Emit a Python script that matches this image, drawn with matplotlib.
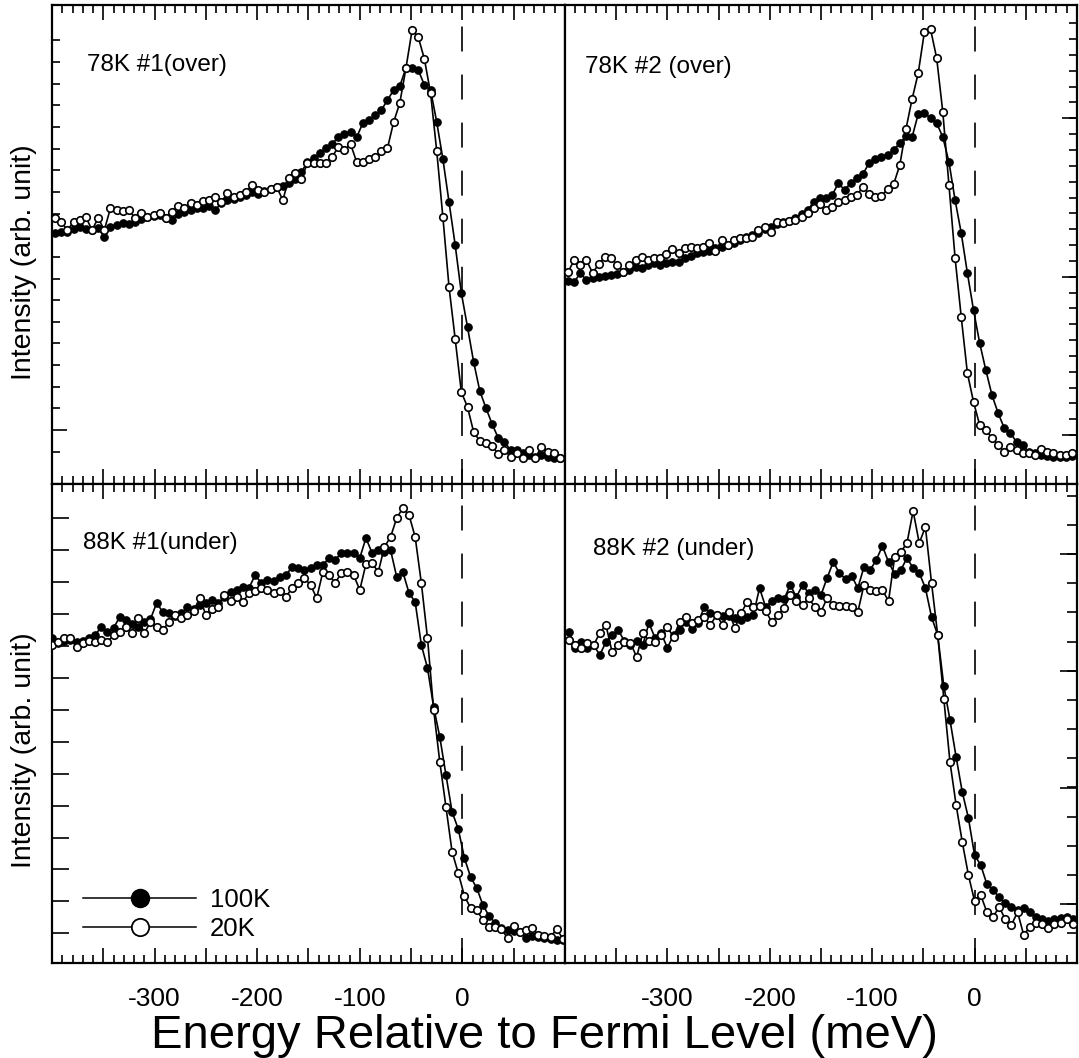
import numpy as np
import matplotlib
matplotlib.use("Agg")
import matplotlib.pyplot as plt
from matplotlib.lines import Line2D
from matplotlib.ticker import MultipleLocator, FixedLocator, FuncFormatter

plt.rcParams['font.family'] = 'Liberation Sans'
plt.rcParams['lines.scale_dashes'] = False

# energy grids of the four scans (meV, relative to E_F)
e_78k_1 = np.arange(-397, 96, 6)
e_78k_2 = np.arange(-397, 96, 6)
e_88k_1 = np.arange(-400, 99, 6)
e_88k_2 = np.arange(-396, 97, 6)

# intensities (arb. unit), 100K = filled, 20K = open
i_78k_1_100 = [251, 252, 252, 255, 257, 255, 254, 256, 247, 257,
               259, 261, 260, 262, 265, 267, 268, 269, 266, 264,
               270, 272, 274, 276, 276, 278, 274, 281, 284, 285,
               287, 289, 292, 290, 293, 295, 297, 298, 301, 305,
               312, 322, 326, 331, 336, 340, 347, 350, 352, 347,
               361, 364, 369, 374, 384, 394, 398, 416, 416, 414,
               399, 394, 362, 325, 282, 239, 191, 157, 122, 93,
               76, 60, 46, 42, 34, 34, 31, 29, 27, 29,
               27, 26, 26]
i_78k_1_20 = [266, 262, 254, 262, 264, 267, 254, 266, 254, 276,
              274, 273, 274, 266, 271, 267, 269, 271, 266, 272,
              278, 276, 281, 279, 283, 284, 287, 282, 291, 287,
              289, 292, 299, 294, 292, 295, 297, 284, 306, 311,
              305, 321, 321, 321, 321, 327, 337, 334, 340, 322,
              322, 325, 327, 333, 336, 362, 381, 416, 454, 447,
              425, 391, 333, 267, 197, 145, 92, 77, 52, 43,
              41, 38, 30, 34, 27, 31, 26, 34, 26, 37,
              32, 31, 26]

i_78k_2_100 = [203, 202, 211, 204, 206, 207, 208, 209, 210, 212,
               214, 217, 216, 219, 221, 219, 221, 222, 222, 226,
               228, 231, 232, 233, 236, 237, 239, 241, 244, 247,
               249, 251, 255, 257, 260, 262, 263, 266, 270, 274,
               282, 286, 286, 289, 301, 294, 301, 306, 310, 321,
               325, 327, 329, 334, 341, 348, 347, 370, 371, 366,
               361, 347, 322, 284, 251, 211, 174, 141, 114, 89,
               71, 56, 51, 42, 39, 32, 31, 29, 28, 27,
               27, 27, 28]
i_78k_2_20 = [212, 224, 219, 224, 211, 220, 227, 226, 219, 212,
              219, 224, 227, 224, 226, 226, 230, 235, 231, 236,
              237, 236, 237, 241, 233, 244, 239, 244, 246, 246,
              247, 254, 257, 252, 262, 261, 263, 264, 267, 271,
              276, 280, 274, 277, 282, 284, 287, 289, 297, 290,
              287, 288, 295, 300, 319, 355, 385, 411, 452, 455,
              426, 372, 299, 226, 167, 111, 82, 59, 54, 46,
              39, 32, 37, 34, 31, 31, 29, 35, 32, 31,
              29, 29, 31]

i_88k_1_100 = [325, 320, 322, 323, 321, 322, 325, 328, 336, 331,
               335, 346, 343, 339, 336, 341, 344, 360, 351, 350,
               347, 350, 356, 354, 358, 360, 363, 360, 366, 371,
               373, 376, 375, 388, 380, 383, 382, 386, 388, 396,
               395, 393, 395, 398, 398, 405, 403, 410, 410, 410,
               405, 425, 410, 413, 411, 413, 386, 391, 370, 361,
               318, 295, 256, 226, 188, 151, 134, 105, 86, 75,
               58, 47, 40, 35, 33, 32, 31, 25, 27, 26,
               25, 24, 23, 23]
i_88k_1_20 = [318, 321, 325, 325, 316, 320, 322, 321, 323, 321,
              328, 331, 336, 330, 345, 330, 341, 336, 333, 341,
              348, 345, 348, 352, 365, 348, 354, 356, 368, 362,
              366, 361, 370, 372, 375, 373, 370, 372, 366, 375,
              380, 385, 378, 365, 391, 388, 380, 390, 391, 388,
              373, 399, 400, 391, 416, 426, 445, 455, 448, 426,
              380, 325, 253, 201, 156, 111, 90, 67, 55, 53,
              43, 36, 36, 34, 25, 37, 31, 33, 35, 28,
              27, 26, 34, 24]

i_88k_2_100 = [331, 315, 321, 315, 318, 308, 321, 328, 333, 322,
               318, 322, 318, 340, 325, 330, 315, 328, 333, 341,
               334, 340, 356, 350, 348, 347, 347, 345, 343, 346,
               348, 375, 356, 362, 365, 364, 378, 366, 378, 370,
               373, 368, 385, 401, 390, 384, 387, 375, 396, 393,
               403, 417, 401, 389, 393, 405, 395, 390, 375, 346,
               328, 277, 243, 206, 171, 145, 108, 98, 79, 73,
               66, 60, 56, 53, 55, 51, 46, 44, 42, 44,
               45, 46, 44]
i_88k_2_20 = [323, 318, 315, 320, 318, 330, 338, 311, 318, 321,
              320, 306, 330, 322, 321, 328, 336, 326, 341, 346,
              340, 343, 346, 338, 348, 338, 351, 335, 350, 361,
              356, 357, 352, 341, 348, 355, 368, 362, 358, 365,
              356, 351, 365, 358, 357, 357, 356, 351, 378, 373,
              372, 373, 362, 406, 411, 420, 452, 420, 436, 380,
              328, 264, 201, 158, 121, 88, 62, 68, 51, 46,
              56, 44, 38, 51, 28, 36, 40, 39, 35, 39,
              40, 44, 39]

panel_labels = ["78K #1(over)", "78K #2 (over)", "88K #1(under)", "88K #2 (under)"]
tick_values = [-300, -200, -100, 0]

fig = plt.figure(figsize=(10.79, 10.58), dpi=100)
xl, xr, wl, wr = 0.0482, 0.5236, 0.4754, 0.4745
yb, yt, h = 0.0898, 0.5425, 0.4527
ax_tl = fig.add_axes([xl, yt, wl, h])
ax_tr = fig.add_axes([xr, yt, wr, h])
ax_bl = fig.add_axes([xl, yb, wl, h])
ax_br = fig.add_axes([xr, yb, wr, h])


def xlab(v, pos):
    v = int(round(v))
    return str(v) if v in tick_values else ""


def setup(ax, side, ymaj, ymin, lmaj, lmin, bottom_row):
    ax.set_xlim(-400, 100)
    ax.set_ylim(0, 479)
    for s in ax.spines.values():
        s.set_linewidth(1.6)
    ax.xaxis.set_major_locator(MultipleLocator(50))
    ax.xaxis.set_minor_locator(MultipleLocator(10))
    ax.yaxis.set_major_locator(FixedLocator(ymaj))
    ax.yaxis.set_minor_locator(FixedLocator(ymin))
    ax.tick_params(axis='both', which='both', direction='in', width=1.2)
    ax.tick_params(axis='x', which='both', top=True, bottom=True)
    ax.tick_params(axis='x', which='major', length=11)
    ax.tick_params(axis='x', which='minor', length=5.5)
    left = side == 'left'
    ax.tick_params(axis='y', which='both', left=left, right=not left,
                   labelleft=False, labelright=False)
    ax.tick_params(axis='y', which='major', length=lmaj)
    ax.tick_params(axis='y', which='minor', length=lmin)
    if bottom_row:
        ax.xaxis.set_major_formatter(FuncFormatter(xlab))
        ax.tick_params(axis='x', labelsize=19, pad=17)
    else:
        ax.tick_params(axis='x', labelbottom=False)


setup(ax_tl, 'left', [54], np.arange(32.35, 460, 21.65), 11, 6, False)
setup(ax_tr, 'right', [49, 207.35, 365.7], np.arange(33.2, 470, 15.835), 11, 6, False)
setup(ax_bl, 'left', np.arange(29.7, 460, 31.92), [], 12, 6, True)
setup(ax_br, 'right', np.arange(58.7, 470, 116.7), np.arange(29.7, 475, 29.17), 12, 7, True)

series = [(ax_tl, e_78k_1, i_78k_1_100, i_78k_1_20),
          (ax_tr, e_78k_2, i_78k_2_100, i_78k_2_20),
          (ax_bl, e_88k_1, i_88k_1_100, i_88k_1_20),
          (ax_br, e_88k_2, i_88k_2_100, i_88k_2_20)]
label_pos = [(0.068, 0.862), (0.039, 0.859), (0.060, 0.864), (0.055, 0.852)]

for (ax, e, hot, cold), name, (tx, ty) in zip(series, panel_labels, label_pos):
    ax.axvline(0, color='k', lw=1.2, ls=(0, (18, 16.6)), zorder=1)
    ax.plot(e, hot, '-o', color='k', lw=1.2, ms=5.4, mfc='k', mec='k', mew=0.8, zorder=3)
    ax.plot(e, cold, '-o', color='k', lw=1.2, ms=5.4, mfc='white', mec='k', mew=1.2, zorder=4)
    ax.text(tx, ty, name, transform=ax.transAxes, fontsize=17.5, ha='left', va='baseline')

handles = [Line2D([], [], color='k', lw=1.1, marker='o', ms=13, mfc='k', mec='k'),
           Line2D([], [], color='k', lw=1.1, marker='o', ms=12.5, mfc='white', mec='k', mew=1.3)]
ax_bl.legend(handles, ['100K', '20K'], loc='center left', bbox_to_anchor=(0.0604, 0.102),
             frameon=False, fontsize=18.5, handlelength=4.4, handletextpad=0.55,
             labelspacing=0.2, borderpad=0, borderaxespad=0, numpoints=1)

fig.text(24 / 1079, 1 - 262 / 1058, "Intensity (arb. unit)", rotation=90,
         ha='center', va='center', fontsize=20.5)
fig.text(24 / 1079, 1 - 750 / 1058, "Intensity (arb. unit)", rotation=90,
         ha='center', va='center', fontsize=20.5)
fig.text(544 / 1079, 1 - 1048 / 1058, "Energy Relative to Fermi Level (meV)",
         ha='center', va='baseline', fontsize=34)

fig.savefig("out.png", dpi=100)
